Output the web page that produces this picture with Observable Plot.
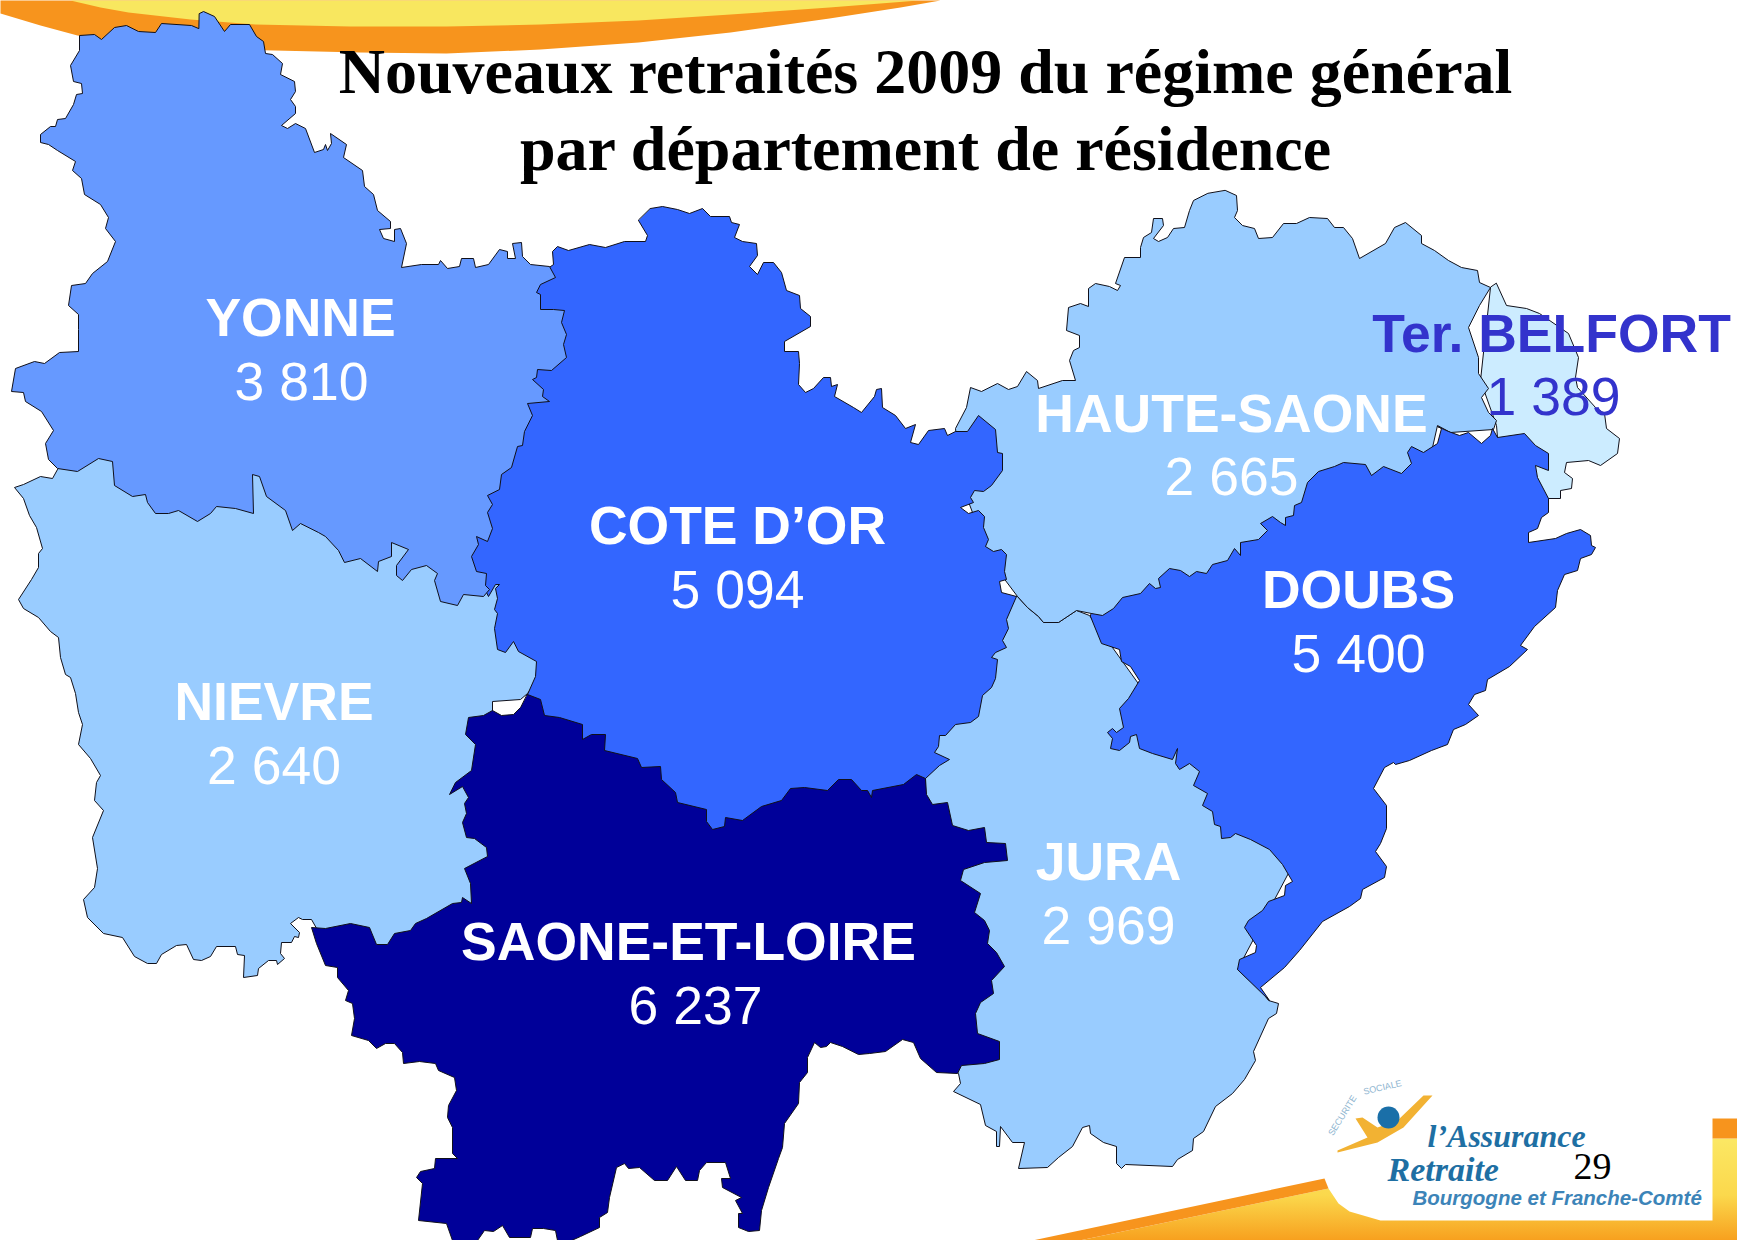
<!DOCTYPE html>
<html lang="fr">
<head>
<meta charset="utf-8">
<title>Nouveaux retraités 2009</title>
<script src="https://cdn.jsdelivr.net/npm/d3@7"></script>
<script src="https://cdn.jsdelivr.net/npm/@observablehq/plot@0.6"></script>
<style>html,body{margin:0;padding:0;background:#fff}svg{display:block}</style>
</head>
<body>
<div id="chart"></div>
<script>
const titleLines = ["Nouveaux retraités 2009 du régime général", "par département de résidence"];
const departments = ["NIEVRE", "JURA", "Ter. BELFORT", "HAUTE-SAONE", "COTE D’OR", "YONNE", "SAONE-ET-LOIRE", "DOUBS"];
const retirees = [2640, 2969, 1389, 2665, 5094, 3810, 6237, 5400];
const colorBreaks = [2000, 3000, 5000, 6000];
const colorRange = ["#CCECFF", "#99CCFF", "#6699FF", "#3366FF", "#000099"];
const pageNumber = "29";

const nievre = [[57,469],[52,478],[40,476],[23,484],[14,487],[23,498],[29,515],[36,527],[42,548],[38,553],[38,567],[31,579],[18,599],[23,608],[38,617],[50,631],[58,637],[60,657],[65,674],[70,677],[75,693],[78,712],[82,724],[78,744],[90,758],[100,775],[96,782],[94,800],[103,810],[92,837],[97,868],[94,887],[83,899],[87,917],[103,933],[122,937],[134,956],[147,963],[156,963],[161,954],[176,945],[186,944],[193,959],[201,960],[210,956],[216,946],[235,946],[237,954],[244,955],[243,977],[257,975],[258,968],[268,960],[276,960],[277,964],[284,958],[280,953],[281,942],[291,942],[294,936],[298,937],[299,932],[290,923],[298,917],[302,919],[311,919],[340,970],[520,930],[493,720],[492,710],[492,701],[520,699],[527,693],[560,650],[560,560],[520,470],[300,440],[100,430]];
const jura = [[1017,596],[1027,607],[1038,616],[1043,622],[1058,622],[1076,610],[1089,615],[1150,700],[1300,850],[1237,969],[1262,992],[1268,1000],[1278,1003],[1276,1013],[1268,1018],[1253,1051],[1255,1060],[1244,1079],[1232,1093],[1215,1106],[1203,1131],[1193,1138],[1192,1150],[1177,1159],[1172,1166],[1125,1164],[1121,1168],[1116,1163],[1116,1146],[1103,1142],[1090,1133],[1089,1125],[1082,1127],[1072,1146],[1058,1157],[1047,1167],[1018,1168],[1024,1142],[1012,1142],[1000,1126],[999,1146],[996,1146],[996,1131],[985,1125],[980,1104],[953,1091],[960,1083],[958,1073],[900,1000],[900,800],[960,650],[1000,600]];
const belfort = [[1496,283],[1506,305],[1526,308],[1539,313],[1568,333],[1578,357],[1575,377],[1577,387],[1595,407],[1604,413],[1606,428],[1619,438],[1617,453],[1600,465],[1588,460],[1566,462],[1564,472],[1572,478],[1571,488],[1560,490],[1560,498],[1548,498],[1520,470],[1497,437],[1496,425],[1480,380],[1490,287]];
const hauteSaone = [[1225,190],[1236,195],[1237,210],[1234,217],[1242,225],[1254,228],[1258,238],[1272,237],[1283,223],[1296,223],[1309,217],[1327,218],[1334,227],[1343,227],[1352,238],[1359,258],[1385,243],[1394,227],[1405,222],[1421,235],[1421,243],[1434,250],[1448,260],[1461,267],[1477,270],[1479,282],[1490,287],[1479,305],[1468,327],[1478,357],[1478,373],[1488,388],[1481,397],[1488,412],[1496,420],[1493,429],[1450,432],[1437,425],[1420,500],[1200,600],[1115,632],[1091,613],[1076,610],[1058,622],[1043,622],[1038,616],[1027,607],[1017,596],[990,560],[960,480],[955,428],[966,407],[970,387],[981,391],[997,383],[1008,389],[1017,386],[1026,371],[1037,380],[1038,388],[1062,380],[1075,380],[1069,360],[1073,350],[1079,347],[1079,335],[1066,330],[1068,307],[1080,303],[1088,306],[1088,288],[1095,283],[1109,286],[1117,290],[1120,285],[1115,283],[1124,257],[1140,257],[1140,247],[1143,237],[1151,232],[1153,218],[1162,218],[1163,225],[1153,238],[1158,241],[1167,237],[1173,228],[1184,227],[1189,210],[1193,200],[1207,193]];
const coteDOr = [[650,208],[662,206],[677,209],[689,213],[702,208],[710,216],[729,216],[731,222],[739,224],[734,237],[742,241],[756,243],[757,255],[749,266],[757,274],[763,262],[773,262],[781,272],[786,290],[799,295],[800,308],[810,316],[810,326],[784,341],[784,351],[798,351],[799,363],[798,384],[805,392],[813,388],[823,377],[830,377],[831,386],[837,384],[834,396],[853,407],[861,412],[874,396],[876,389],[881,388],[882,407],[895,415],[905,428],[915,424],[910,442],[918,444],[928,430],[944,428],[947,435],[955,431],[967,431],[978,415],[995,429],[997,452],[1002,453],[1002,470],[991,485],[983,491],[974,490],[970,497],[973,502],[960,507],[968,513],[978,510],[984,516],[983,527],[988,539],[985,546],[993,551],[1001,549],[1006,554],[1004,571],[1006,579],[999,581],[1001,592],[1016,596],[1006,619],[1008,628],[1002,640],[1006,647],[995,652],[991,657],[997,659],[995,678],[991,687],[982,695],[978,716],[970,722],[955,724],[945,735],[939,735],[938,746],[934,752],[949,759],[939,765],[925,778],[925,790],[720,850],[540,730],[527,694],[535,676],[536,661],[518,651],[513,641],[505,652],[497,649],[494,628],[497,613],[494,609],[497,598],[495,588],[499,584],[495,584],[488,596],[440,500],[480,350],[530,280],[553,264],[552,251],[557,246],[568,250],[589,244],[605,247],[624,241],[645,241],[647,235],[638,220]];
const yonne = [[199,13],[203,11],[214,16],[224,31],[230,24],[249,24],[256,36],[263,41],[265,53],[272,54],[282,63],[280,74],[294,81],[295,91],[290,99],[295,106],[295,113],[281,125],[287,128],[295,123],[305,128],[314,152],[323,149],[325,144],[327,150],[331,143],[330,133],[346,144],[343,157],[362,170],[364,186],[373,194],[377,210],[390,221],[390,228],[379,229],[383,238],[394,241],[394,229],[400,228],[406,243],[401,267],[421,264],[438,264],[440,260],[447,268],[459,266],[461,258],[473,258],[475,267],[488,264],[499,249],[507,251],[507,258],[515,258],[512,243],[521,242],[522,256],[530,264],[549,266],[555,277],[540,284],[536,292],[540,294],[540,309],[553,309],[564,310],[561,322],[566,334],[563,344],[566,357],[551,370],[537,369],[536,377],[532,379],[543,389],[542,396],[549,401],[527,403],[532,415],[524,431],[522,445],[517,446],[511,467],[501,474],[499,489],[487,495],[492,504],[487,512],[492,528],[487,541],[476,536],[478,544],[471,556],[476,571],[486,573],[485,585],[489,589],[483,596],[463,594],[457,605],[440,601],[434,580],[437,573],[426,565],[411,569],[402,580],[396,575],[396,565],[408,549],[391,542],[391,556],[378,561],[377,571],[360,558],[344,562],[338,550],[325,536],[318,532],[300,523],[292,530],[285,510],[266,496],[259,476],[252,474],[253,513],[235,508],[216,506],[210,513],[197,521],[178,510],[168,513],[155,513],[147,502],[145,494],[132,496],[114,485],[112,461],[98,458],[77,471],[57,468],[48,459],[45,443],[53,430],[41,411],[25,401],[23,392],[11,391],[15,368],[34,361],[44,363],[59,352],[78,351],[78,329],[78,314],[68,305],[71,285],[85,283],[92,273],[107,261],[115,241],[105,228],[108,217],[100,204],[84,194],[81,178],[72,170],[75,161],[57,150],[48,144],[40,142],[40,134],[50,126],[55,126],[57,119],[65,118],[73,104],[76,94],[82,93],[81,83],[73,81],[70,65],[79,50],[79,35],[94,34],[101,39],[114,27],[126,25],[138,31],[155,32],[161,23],[191,25],[198,28]];
const saoneEtLoire = [[527,694],[540,699],[544,715],[559,717],[582,724],[582,739],[591,734],[605,734],[604,750],[637,758],[641,767],[660,766],[661,779],[675,792],[677,802],[706,809],[706,821],[712,829],[724,826],[725,817],[742,820],[761,806],[781,800],[790,788],[804,787],[827,790],[838,779],[851,779],[861,790],[867,790],[871,797],[872,790],[903,784],[916,774],[925,778],[926,794],[932,804],[947,802],[952,825],[968,830],[984,827],[986,842],[1005,843],[1007,860],[984,862],[963,869],[960,880],[980,893],[974,912],[984,920],[989,930],[987,943],[996,952],[1004,966],[991,980],[993,993],[980,1002],[975,1013],[977,1033],[999,1041],[999,1059],[984,1063],[961,1065],[957,1073],[936,1072],[920,1058],[913,1042],[902,1039],[885,1051],[869,1053],[858,1054],[842,1046],[830,1042],[826,1046],[820,1047],[814,1042],[807,1057],[807,1072],[799,1082],[798,1103],[784,1123],[782,1147],[778,1158],[768,1187],[761,1210],[759,1230],[748,1231],[738,1227],[738,1213],[742,1213],[735,1200],[741,1197],[722,1187],[721,1178],[730,1178],[725,1162],[706,1162],[699,1170],[697,1180],[685,1180],[676,1166],[667,1180],[654,1180],[639,1167],[628,1168],[624,1163],[616,1167],[609,1197],[607,1212],[599,1217],[599,1227],[580,1236],[571,1240],[557,1240],[555,1230],[543,1228],[532,1228],[530,1237],[509,1237],[502,1225],[493,1231],[484,1230],[477,1240],[452,1240],[446,1223],[418,1220],[422,1183],[416,1177],[420,1171],[434,1168],[435,1158],[457,1158],[452,1153],[452,1127],[447,1117],[448,1105],[456,1090],[454,1077],[438,1070],[435,1063],[419,1061],[403,1063],[402,1052],[394,1043],[385,1043],[376,1048],[368,1040],[351,1035],[354,1018],[352,1003],[345,1000],[348,990],[337,977],[337,967],[325,965],[316,943],[311,927],[325,928],[350,923],[369,927],[376,944],[387,944],[394,933],[410,930],[415,923],[426,918],[452,903],[461,902],[462,897],[471,903],[470,883],[464,868],[487,856],[486,847],[474,838],[466,837],[462,822],[466,813],[464,803],[468,797],[462,786],[449,794],[455,782],[471,770],[475,744],[465,734],[468,717],[483,715],[492,710],[501,715],[513,714],[520,707]];
const doubs = [[1091,613],[1102,615],[1113,608],[1122,597],[1140,593],[1149,583],[1155,588],[1160,587],[1158,578],[1169,568],[1180,570],[1189,576],[1196,571],[1206,573],[1212,564],[1227,560],[1234,548],[1240,555],[1240,542],[1258,539],[1267,530],[1260,523],[1272,516],[1280,522],[1285,525],[1285,517],[1293,515],[1294,505],[1301,502],[1307,482],[1318,471],[1334,466],[1343,462],[1365,464],[1371,475],[1383,466],[1401,473],[1411,463],[1407,452],[1411,446],[1423,452],[1437,443],[1441,428],[1437,426],[1448,431],[1459,435],[1468,432],[1481,443],[1490,435],[1492,428],[1497,437],[1524,433],[1535,445],[1548,453],[1548,470],[1535,465],[1537,477],[1548,498],[1548,512],[1541,517],[1537,528],[1528,532],[1528,542],[1555,538],[1566,533],[1580,529],[1590,535],[1591,545],[1595,547],[1591,554],[1580,558],[1577,570],[1564,574],[1557,590],[1555,607],[1534,626],[1520,645],[1527,649],[1509,666],[1487,679],[1485,690],[1474,694],[1468,704],[1478,715],[1465,724],[1453,729],[1447,744],[1431,750],[1409,760],[1395,764],[1393,762],[1384,767],[1373,788],[1386,805],[1386,828],[1380,843],[1375,851],[1386,866],[1384,877],[1362,889],[1360,898],[1349,906],[1322,921],[1299,950],[1284,967],[1260,987],[1269,1000],[1237,969],[1239,959],[1255,952],[1256,945],[1244,927],[1248,920],[1262,910],[1268,901],[1284,895],[1285,885],[1292,881],[1282,864],[1269,849],[1250,839],[1235,833],[1230,837],[1221,838],[1220,826],[1214,824],[1212,811],[1202,805],[1207,793],[1193,785],[1199,771],[1189,763],[1179,769],[1175,763],[1177,748],[1172,759],[1152,753],[1139,748],[1136,734],[1130,736],[1129,742],[1119,750],[1110,748],[1112,738],[1107,732],[1112,728],[1116,732],[1123,727],[1119,708],[1128,698],[1139,680],[1130,666],[1121,661],[1119,649],[1101,643],[1090,616]];
const rings = [nievre, jura, belfort, hauteSaone, coteDOr, yonne, saoneEtLoire, doubs];

const nameAnchorX = [273.5, 1108, 1551, 1231, 737, 300, 688, 1358];
const nameBaseline = [719, 879, 351, 431, 543, 335, 959, 607];
const valueAnchorX = [273.5, 1108, 1553, 1231, 737, 301, 695, 1358];
const valueBaseline = [783, 943, 414, 494, 607, 399, 1023, 671];

const topOrange = [[0,0],[0,13],[40,25],[77,35],[120,42],[170,46],[220,49],[274,50],[360,52],[446,53],[540,49],[638,42],[730,32],[829,18],[900,7],[940,0]];
const topYellow = [[70,0],[100,7],[128,12],[190,19],[255,24],[350,26],[446,26],[540,24],[638,20],[730,14],[829,7],[918,0]];
const bottomOrangeBand = [[1032,1240],[1324,1178],[1328,1188],[1079,1240]];
const bottomOrangeCorner = [[1712,1118],[1737,1118],[1737,1138],[1712,1138]];
const bottomYellow = [[1079,1240],[1328,1188],[1338,1203],[1349,1211],[1380,1220],[1712,1220],[1712,1138],[1737,1138],[1737,1240]];
const logoFigure = [[1337,1152],[1377,1142],[1403,1127],[1432,1095],[1423,1095],[1397,1120],[1377,1127],[1362,1117],[1355,1118],[1367,1137],[1337,1150]];
const logoMain = [
  {t:"l’Assurance", x:1427, y:1146, s:32},
  {t:"Retraite", x:1387, y:1180, s:34}
];
const logoRegion = [{t:"Bourgogne et Franche-Comté", x:1412, y:1204}];
const logoArc1 = [{t:"SECURITE", x:1342, y:1115}];
const logoArc2 = [{t:"SOCIALE", x:1382, y:1087}];

const polygon = (ring) => ({type: "Polygon", coordinates: [[...ring, ring[0]]]});
const regions = departments.map((name, i) => ({name, value: retirees[i], geometry: polygon(rings[i])}));
const spaced = d3.formatLocale({thousands: " ", grouping: [3], decimal: ",", currency: ["", ""]}).format(",d");
const labels = departments.map((name, i) => ({
  name, value: spaced(retirees[i]), nx: nameAnchorX[i], ny: nameBaseline[i], vx: valueAnchorX[i], vy: valueBaseline[i],
  color: name === "Ter. BELFORT" ? "#3333CC" : "#fff"
}));

const sans = "'Liberation Sans', Arial, sans-serif";
const serif = "'Liberation Serif', 'Times New Roman', serif";

const gradient = () => {
  const defs = d3.create("svg:defs");
  const g = defs.append("linearGradient").attr("id", "bottomGrad").attr("gradientUnits", "userSpaceOnUse")
    .attr("x1", 0).attr("x2", 0).attr("y1", 1140).attr("y2", 1240);
  g.append("stop").attr("offset", 0).attr("stop-color", "#FBE763");
  g.append("stop").attr("offset", 0.55).attr("stop-color", "#FBD84C");
  g.append("stop").attr("offset", 1).attr("stop-color", "#F7A01E");
  return defs.node();
};

const chart = Plot.plot({
  width: 1737,
  height: 1240,
  margin: 0,
  projection: "identity",
  color: {type: "threshold", domain: colorBreaks, range: colorRange},
  style: {background: "#fff"},
  marks: [
    gradient,
    Plot.geo([polygon(topOrange)], {fill: "#F7941D"}),
    Plot.geo([polygon(topYellow)], {fill: "#F8E75F"}),
    Plot.geo([polygon(bottomYellow)], {fill: "url(#bottomGrad)"}),
    Plot.geo([polygon(bottomOrangeBand), polygon(bottomOrangeCorner)], {fill: "#F7941D"}),
    Plot.geo(regions, {geometry: "geometry", fill: "value", stroke: "#10101a", strokeWidth: 1, strokeLinejoin: "round"}),
    Plot.text(titleLines, {x: () => 925, y: (d, i) => [92.5, 169.5][i], text: (d) => d, fontFamily: serif, fontWeight: "bold", fontSize: 64, fill: "#000", lineAnchor: "bottom", textAnchor: "middle"}),
    Plot.text(labels, {x: "nx", y: "ny", text: "name", fill: "color", fontFamily: sans, fontWeight: "bold", fontSize: 53.5, lineAnchor: "bottom", textAnchor: "middle"}),
    Plot.text(labels, {x: "vx", y: "vy", text: "value", fill: "color", fontFamily: sans, fontSize: 53.5, lineAnchor: "bottom", textAnchor: "middle"}),
    Plot.geo([polygon(logoFigure)], {fill: "#F2B233"}),
    Plot.dot([[1388, 1117]], {x: (d) => d[0], y: (d) => d[1], r: 11, fill: "#1A6FA8"}),
    Plot.text(logoMain, {x: "x", y: "y", text: "t", fontSize: "s", fontWeight: "bold", fontStyle: "italic", fontFamily: serif, fill: "#1E6FA3", lineAnchor: "bottom", textAnchor: "start"}),
    Plot.text(logoRegion, {x: "x", y: "y", text: "t", fontSize: 20.5, fontWeight: "bold", fontStyle: "italic", fontFamily: sans, fill: "#3C84B8", lineAnchor: "bottom", textAnchor: "start"}),
    Plot.text(logoArc1, {x: "x", y: "y", text: "t", fontSize: 9, rotate: -58, fontFamily: sans, fill: "#8DB4CF"}),
    Plot.text(logoArc2, {x: "x", y: "y", text: "t", fontSize: 9, rotate: -13, fontFamily: sans, fill: "#8DB4CF"}),
    Plot.text([pageNumber], {x: () => 1592, y: () => 1178, text: (d) => d, fontFamily: serif, fontSize: 38, fill: "#000", lineAnchor: "bottom", textAnchor: "middle"})
  ]
});
document.getElementById("chart").append(chart);
</script>
</body>
</html>
